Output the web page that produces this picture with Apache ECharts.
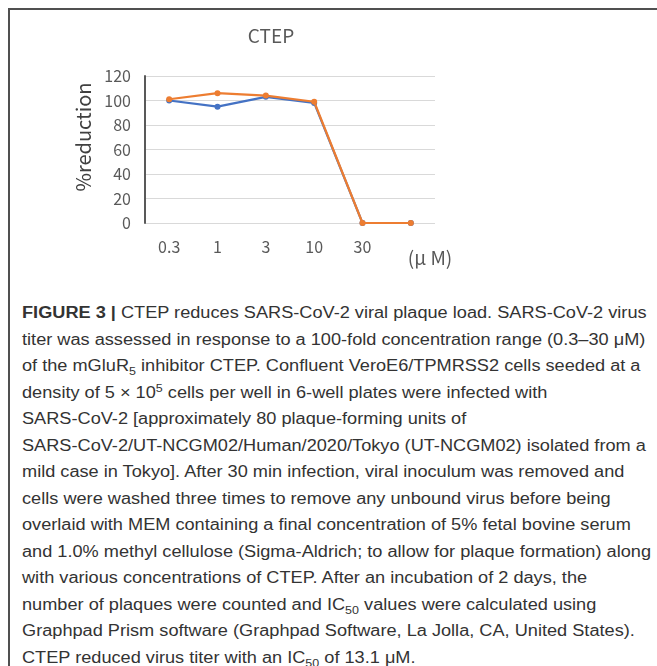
<!DOCTYPE html>
<html>
<head>
<meta charset="utf-8">
<script src="https://cdn.jsdelivr.net/npm/echarts@6/dist/echarts.min.js"></script>
<style>
  html, body { margin: 0; padding: 0; background: #fff; }
  #page { position: relative; width: 657px; height: 666px; overflow: hidden; background: #fff; }
  #frame { position: absolute; left: 8px; top: 8px; width: 660px; height: 670px;
           border-top: 2px solid #505050; border-left: 2px solid #505050; box-sizing: border-box; }
  #chart { position: absolute; left: 0; top: 0; width: 657px; height: 300px; }
  #cap { position: absolute; left: 22px; top: 300px; color: #333; font-family: "Liberation Sans", Arial, sans-serif;
         font-size: 16px; transform-origin: 0 0; }
  #cap .l { white-space: nowrap; height: 26.5px; line-height: 26.5px; }
  #cap sub, #cap sup { font-size: 11px; line-height: 0; }
</style>
</head>
<body>
<div id="page">
  <div id="frame"></div>
  <div id="chart"></div>
  <div id="cap">
    <div class="l"><b>FIGURE 3 |</b> CTEP reduces SARS-CoV-2 viral plaque load. SARS-CoV-2 virus</div>
    <div class="l">titer was assessed in response to a 100-fold concentration range (0.3–30 μM)</div>
    <div class="l">of the mGluR<sub>5</sub> inhibitor CTEP. Confluent VeroE6/TPMRSS2 cells seeded at a</div>
    <div class="l">density of 5 × 10<sup>5</sup> cells per well in 6-well plates were infected with</div>
    <div class="l">SARS-CoV-2 [approximately 80 plaque-forming units of</div>
    <div class="l">SARS-CoV-2/UT-NCGM02/Human/2020/Tokyo (UT-NCGM02) isolated from a</div>
    <div class="l">mild case in Tokyo]. After 30 min infection, viral inoculum was removed and</div>
    <div class="l">cells were washed three times to remove any unbound virus before being</div>
    <div class="l">overlaid with MEM containing a final concentration of 5% fetal bovine serum</div>
    <div class="l">and 1.0% methyl cellulose (Sigma-Aldrich; to allow for plaque formation) along</div>
    <div class="l">with various concentrations of CTEP. After an incubation of 2 days, the</div>
    <div class="l">number of plaques were counted and IC<sub>50</sub> values were calculated using</div>
    <div class="l">Graphpad Prism software (Graphpad Software, La Jolla, CA, United States).</div>
    <div class="l">CTEP reduced virus titer with an IC<sub>50</sub> of 13.1 μM.</div>
  </div>
</div>
<script>
// ---- data ----
const categories = ['0.3', '1', '3', '10', '30', ''];
const seriesBlue = [100, 95, 103, 98, 0, 0];
const seriesOrange = [101, 106, 104, 99, 0, 0];
const yMin = 0, yMax = 120, yStep = 20;
const chartTitle = 'CTEP';
const yAxisTitle = '%reduction';
const xUnitLabel = '(μ M)';

// ---- caption fit ----
(function () {
  const cap = document.getElementById('cap');
  let maxW = 0;
  cap.querySelectorAll('.l').forEach(function (el) {
    const r = document.createRange();
    r.selectNodeContents(el);
    maxW = Math.max(maxW, r.getBoundingClientRect().width);
  });
  const target = 629;
  if (maxW > 0) cap.style.transform = 'scaleX(' + (target / maxW) + ')';
})();

// ---- chart ----
const FONT = '"Noto Sans CJK JP", "Noto Sans", sans-serif';
const chart = echarts.init(document.getElementById('chart'), null, { renderer: 'canvas' });
chart.setOption({
  animation: false,
  backgroundColor: 'transparent',
  grid: { left: 145, right: 222, top: 76, bottom: 77 },
  xAxis: {
    type: 'category', data: categories, boundaryGap: true,
    axisLine: { show: false }, axisTick: { show: false },
    axisLabel: { fontFamily: FONT, fontSize: 16, color: '#595959', margin: 16 }
  },
  yAxis: {
    type: 'value', min: yMin, max: yMax, interval: yStep,
    axisLine: { show: true, lineStyle: { color: '#595959', width: 2 } },
    axisTick: { show: false },
    axisLabel: { fontFamily: FONT, fontSize: 16, color: '#595959', margin: 14 },
    splitLine: { lineStyle: { color: '#d9d9d9', width: 1 } }
  },
  graphic: [
    {
      type: 'text', x: 271, y: 36,
      style: { text: chartTitle, fontFamily: FONT, fontSize: 19, fill: '#595959',
               align: 'center', verticalAlign: 'middle' }
    },
    {
      type: 'text', x: 83, y: 137, rotation: Math.PI / 2,
      style: { text: yAxisTitle, fontFamily: FONT, fontSize: 20, fill: '#404040',
               align: 'center', verticalAlign: 'middle' }
    },
    {
      type: 'text', x: 430, y: 258,
      style: { text: xUnitLabel, fontFamily: FONT, fontSize: 19, fill: '#595959',
               align: 'center', verticalAlign: 'middle' }
    }
  ],
  series: [
    {
      type: 'line', data: seriesBlue, symbol: 'circle', symbolSize: 6,
      lineStyle: { color: '#4472C4', width: 2.2 }, itemStyle: { color: '#4472C4' }, z: 2
    },
    {
      type: 'line', data: seriesOrange, symbol: 'circle', symbolSize: 6,
      lineStyle: { color: '#ED7D31', width: 2.2 }, itemStyle: { color: '#ED7D31' }, z: 3
    }
  ]
});
</script>
</body>
</html>
